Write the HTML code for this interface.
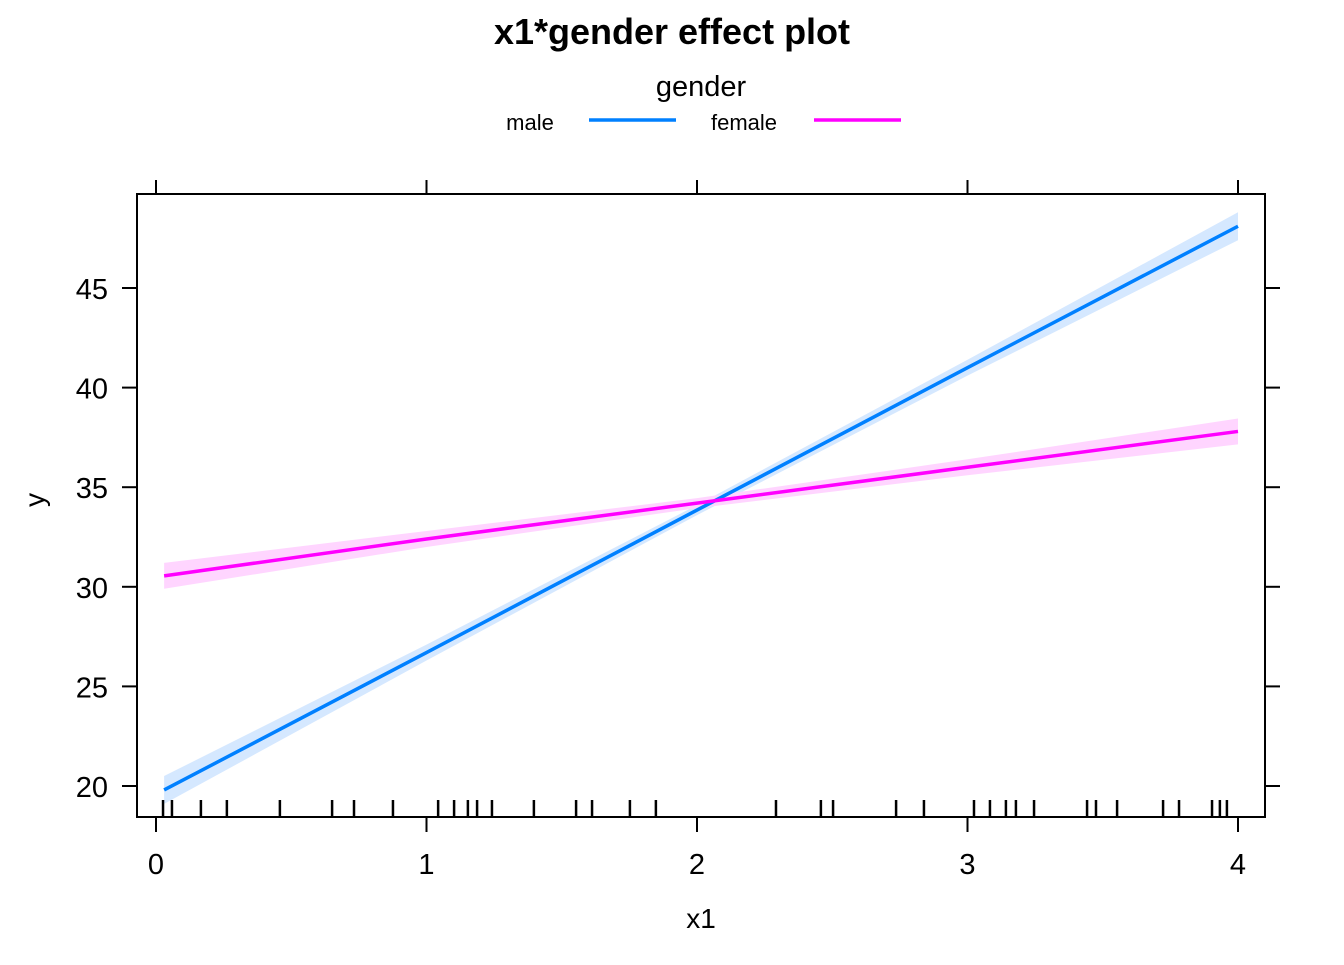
<!DOCTYPE html>
<html><head><meta charset="utf-8"><style>
body{margin:0;background:#fff;font-family:"Liberation Sans",Arial,sans-serif}
svg text{font-family:"Liberation Sans",Arial,sans-serif}
</style></head><body>
<svg id="c" width="1344" height="960">
<text x="672" y="44" text-anchor="middle" font-size="36" font-weight="bold">x1*gender effect plot</text>
<text x="701" y="96" text-anchor="middle" font-size="29">gender</text>
<g>
<text x="530" y="130" text-anchor="middle" font-size="22">male</text>
<line x1="589" y1="120" x2="676" y2="120" stroke="#0080FF" stroke-width="3.5"/></g>
<g>
<text x="744" y="130" text-anchor="middle" font-size="22">female</text>
<line x1="814" y1="120" x2="901" y2="120" stroke="#FF00FF" stroke-width="3.5"/></g>
<g id="plot"></g>
<rect x="137" y="194" width="1128" height="623" fill="none" stroke="#000" stroke-width="2"/>
<text x="701" y="928" text-anchor="middle" font-size="28">x1</text>
<text transform="translate(44,500) rotate(-90)" text-anchor="middle" font-size="28">y</text>
</svg>
<script>
const xTicks=[0,1,2,3,4];
const yTicks=[20,25,30,35,40,45];
const fitX=[0.03,1,2,3,4];
const maleFit=[19.8,26.7,33.85,41.0,48.1];
const maleLower=[19.1,26.3,33.6,40.6,47.4];
const maleUpper=[20.5,27.1,34.1,41.4,48.8];
const femaleFit=[30.55,32.4,34.2,36.0,37.8];
const femaleLower=[29.9,32.0,33.95,35.6,37.15];
const femaleUpper=[31.2,32.8,34.45,36.4,38.45];
const rug=[0.026,0.059,0.166,0.262,0.458,0.651,0.732,0.876,1.043,1.102,1.153,1.187,1.242,1.397,1.553,1.612,1.752,1.848,2.292,2.458,2.503,2.736,2.839,3.024,3.083,3.142,3.179,3.246,3.442,3.475,3.553,3.723,3.782,3.904,3.933,3.959];
const X=v=>156+v*270.5, Y=v=>786-(v-20)*19.92;
const NS='http://www.w3.org/2000/svg';
const svg=document.getElementById('c'), g=document.getElementById('plot');
function mk(t,a,p){const e=document.createElementNS(NS,t);for(const k in a)e.setAttribute(k,a[k]);(p||g).appendChild(e);return e;}
function band(lo,hi,fill,name){
 const pts=fitX.map((x,i)=>X(x)+','+Y(hi[i])).concat(fitX.slice().reverse().map((x,j)=>{const i=fitX.length-1-j;return X(x)+','+Y(lo[i]);}));
 const e=mk('polygon',{points:pts.join(' '),fill:fill});
 
 
}
function line(f,col,name){
 const e=mk('polyline',{points:fitX.map((x,i)=>X(x)+','+Y(f[i])).join(' '),fill:'none',stroke:col,'stroke-width':3.5});
 
 
}
band(maleLower,maleUpper,'#D5E8FF','male-confidence-band');
band(femaleLower,femaleUpper,'#FFD5FF','female-confidence-band');
line(maleFit,'#0080FF','male-line');
line(femaleFit,'#FF00FF','female-line');
rug.forEach(v=>{const e=mk('line',{x1:X(v),x2:X(v),y1:800,y2:817,stroke:'#000','stroke-width':2.5});
 
 });
xTicks.forEach(v=>{
 const a=mk('line',{x1:X(v),x2:X(v),y1:817,y2:832,stroke:'#000','stroke-width':2},svg);
 
 
 const b=mk('line',{x1:X(v),x2:X(v),y1:180,y2:194,stroke:'#000','stroke-width':2},svg);
 
 
 const t=mk('text',{x:X(v),y:874,'text-anchor':'middle','font-size':29},svg);t.textContent=v;
 
 
});
yTicks.forEach(v=>{
 const a=mk('line',{x1:122,x2:137,y1:Y(v),y2:Y(v),stroke:'#000','stroke-width':2},svg);
 
 
 const b=mk('line',{x1:1265,x2:1280,y1:Y(v),y2:Y(v),stroke:'#000','stroke-width':2},svg);
 
 
 const t=mk('text',{x:108,y:Y(v)+11,'text-anchor':'end','font-size':29},svg);t.textContent=v;
 
 
});
</script>
</body></html>
